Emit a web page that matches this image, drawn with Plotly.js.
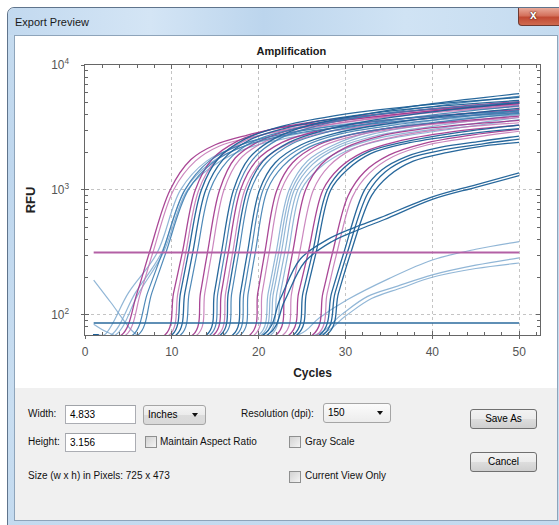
<!DOCTYPE html>
<html><head><meta charset="utf-8">
<script src="https://cdn.plot.ly/plotly-3.0.1.min.js"></script>
<style>
html,body{margin:0;padding:0;width:559px;height:525px;overflow:hidden;background:#fff;font-family:'Liberation Sans',Arial,sans-serif;color:#000;}
#win{position:absolute;left:7px;top:7px;width:570px;height:530px;border:1px solid #5f748c;border-radius:7px 7px 0 0;box-sizing:border-box;
 background:linear-gradient(180deg,#dbe9f6 0px,#c5dbef 30px,#bfd7ee 160px,#c9def1 400px,#c3daef 100%);}
#titlebar{position:absolute;left:0;top:0;right:0;height:27px;border-radius:7px 7px 0 0;
 background:linear-gradient(90deg,#c2d9ef 0%,#d4e5f5 25%,#bcd5ed 45%,#d0e3f4 70%,#c3daef 100%);}
#ttext{position:absolute;left:7px;top:8px;font-size:11px;line-height:13px;color:#1a1a1a;}
#close{position:absolute;left:518px;top:8px;width:45px;height:18px;border:1px solid #6d3a31;border-top:none;border-radius:0 0 4px 4px;box-sizing:border-box;
 background:linear-gradient(180deg,#e9a999 0%,#d4715c 45%,#c14a33 55%,#cf6a4f 100%);}
#close span{position:absolute;left:11px;top:0px;font:bold 12px 'Liberation Sans',Arial;color:#fff;text-shadow:0 0 2px #4a1a10,0 0 1px #4a1a10;}
#content{position:absolute;left:14px;top:35px;width:544px;height:486px;border:1px solid #8ea4ba;box-sizing:border-box;background:#f0f0f0;}
#chartbg{position:absolute;left:15px;top:36px;width:542px;height:352px;background:#fff;}
#chart{position:absolute;left:15px;top:35px;width:542px;height:353px;}
.lbl{position:absolute;font-size:10px;line-height:12px;white-space:nowrap;color:#111;}
.tb{position:absolute;height:19px;box-sizing:border-box;border:1px solid #abadb3;border-top-color:#a0a3a8;background:#fff;font-size:10px;line-height:17px;padding-left:4px;}
.dd{position:absolute;height:20px;box-sizing:border-box;border:1px solid #a5a5a5;border-radius:3px;background:linear-gradient(180deg,#f4f4f4 0%,#ebebeb 50%,#dcdcdc 51%,#d9d9d9 100%);font-size:10px;line-height:18px;padding-left:4px;}
.dd i{position:absolute;right:7px;top:7px;width:0;height:0;border-left:3.5px solid transparent;border-right:3.5px solid transparent;border-top:4px solid #111;}
.btn{position:absolute;height:20px;box-sizing:border-box;border:1px solid #707070;border-radius:3px;background:linear-gradient(180deg,#f2f2f2 0%,#ebebeb 50%,#dddddd 51%,#cfcfcf 100%);font-size:10px;line-height:18px;text-align:center;}
.cb{position:absolute;width:12px;height:12px;box-sizing:border-box;border:1px solid #8e8f8f;background:linear-gradient(135deg,#d2d2d2 0%,#e6e6e6 60%,#f4f4f4 100%);}
</style></head>
<body>
<div id="win"><div id="titlebar"></div><div id="ttext">Export Preview</div></div>
<div id="close"><span>x</span></div>
<div id="content"></div>
<div id="chartbg"></div>
<div id="chart"></div>

<div class="lbl" style="left:28px;top:408px;">Width:</div>
<div class="tb" style="left:65px;top:405px;width:71px;">4.833</div>
<div class="dd" style="left:143px;top:405px;width:63px;">Inches<i></i></div>
<div class="lbl" style="left:241px;top:408px;">Resolution (dpi):</div>
<div class="dd" style="left:323px;top:403px;width:68px;background:linear-gradient(180deg,#fbfbfb,#ececec);">150<i></i></div>
<div class="btn" style="left:470px;top:409px;width:67px;">Save As</div>

<div class="lbl" style="left:28px;top:436px;">Height:</div>
<div class="tb" style="left:65px;top:433px;width:71px;">3.156</div>
<div class="cb" style="left:145px;top:436px;"></div>
<div class="lbl" style="left:160px;top:436px;">Maintain Aspect Ratio</div>
<div class="cb" style="left:289px;top:436px;"></div>
<div class="lbl" style="left:305px;top:436px;">Gray Scale</div>
<div class="btn" style="left:470px;top:452px;width:67px;">Cancel</div>

<div class="lbl" style="left:28px;top:470px;">Size (w x h) in Pixels: 725 x 473</div>
<div class="cb" style="left:289px;top:471px;"></div>
<div class="lbl" style="left:305px;top:470px;">Current View Only</div>

<script>
// ---- data: amplification curves, each a list of [cycle, RFU] readings ----
const magentaDark = [
  [[1,69],[4.2,69],[6.0,150],[7.4,313],[9.8,1000],[12.2,1750],[15.0,2300],[18.7,2750],[22.5,3150],[27.0,3450],[35,4100],[42,4600],[50,5100]],
  [[1,69],[9.2,69],[10.2,150],[11.2,313],[12.7,1000],[14.6,1750],[17.5,2450],[21.5,3050],[28,3650],[38,4300],[50,4900]],
  [[1,69],[12.4,69],[13.3,150],[14.1,313],[15.5,1000],[17.3,1800],[20.3,2500],[24.3,3100],[30.5,3650],[40,4300],[50,4900]],
  [[1,69],[14.8,69],[15.7,150],[16.5,313],[17.9,1000],[19.7,1700],[22.7,2400],[26.7,2950],[33,3500],[41,3950],[50,4400]],
  [[1,69],[19.0,69],[19.9,150],[20.7,313],[22.1,1000],[23.9,1650],[26.9,2300],[30.9,2800],[37,3250],[50,3900]],
  [[1,69],[22.0,69],[23.0,150],[23.9,313],[25.4,1000],[27.2,1600],[30.1,2200],[34,2700],[40,3150],[50,3600]],
  [[1,69],[23.5,69],[24.6,150],[25.7,313],[27.4,1000],[29.3,1500],[32,2000],[36,2450],[42,2900],[50,3300]],
  [[1,69],[26.2,69],[27.4,150],[28.5,313],[30.3,900],[32.2,1400],[35,1900],[39,2350],[44.5,2750],[50,3050]]
];
const magentaLight = [
  [[1,69],[4.7,69],[6.4,150],[7.8,313],[10.2,1000],[12.7,1700],[15.5,2250],[19.2,2650],[23.0,3000],[27.5,3300],[35,3900],[42,4350],[50,4800]],
  [[1,69],[9.7,69],[10.7,150],[11.6,313],[13.1,1000],[15.0,1700],[18.0,2400],[22.0,2950],[28.5,3500],[38,4150],[50,4700]],
  [[1,69],[12.9,69],[13.8,150],[14.6,313],[16.0,1000],[17.8,1750],[20.8,2450],[24.8,3000],[31,3550],[40,4150],[50,4650]],
  [[1,69],[15.3,69],[16.2,150],[17.0,313],[18.4,1000],[20.2,1650],[23.2,2300],[27.2,2850],[33.5,3350],[41,3800],[50,4200]],
  [[1,69],[19.5,69],[20.4,150],[21.2,313],[22.6,1000],[24.4,1600],[27.4,2250],[31.4,2750],[37.5,3200],[50,3800]],
  [[1,69],[22.8,69],[23.8,150],[24.7,313],[26.3,1000],[28.1,1550],[31,2150],[35,2600],[41,3050],[50,3450]],
  [[1,69],[26.7,69],[27.9,150],[29.0,313],[30.8,880],[32.7,1350],[35.5,1850],[39.5,2300],[45,2650],[50,2950]]
];
const blueLight = [
  [[1,69],[2.2,69],[5.0,150],[8.3,313],[11.0,1000],[14.0,1700],[18,2300],[24,2900],[32,3500],[40,3900],[50,4300]],
  [[1,69],[3.0,69],[5.8,150],[8.8,313],[11.5,1000],[14.5,1650],[18.5,2250],[25,2850],[33,3400],[41,3800],[50,4100]],
  [[1,69],[3.5,69],[6.2,150],[9.0,313],[11.8,1000],[15.0,1600],[19,2200],[26,2800],[34,3300],[42,3700],[50,4000]],
  [[1,69],[20.0,69],[21.1,150],[22.0,313],[23.5,1000],[25.6,1700],[28.7,2300],[32.8,2900],[39,3500],[50,4400]],
  [[1,69],[20.3,69],[21.4,150],[22.3,313],[23.8,1000],[25.9,1650],[29,2250],[33.1,2800],[39.3,3350],[50,4200]],
  [[1,69],[20.6,69],[21.7,150],[22.6,313],[24.1,1000],[26.2,1600],[29.3,2200],[33.4,2700],[39.6,3200],[50,4000]],
  [[1,69],[21.0,69],[22.1,150],[23.0,313],[24.5,1000],[26.6,1550],[29.7,2100],[33.8,2600],[40,3050],[50,3800]],
  [[1,69],[21.4,69],[22.5,150],[23.4,313],[24.9,1000],[27,1500],[30.1,2050],[34.2,2500],[40.4,2950],[50,3650]],
  [[1,69],[24.5,69],[27,95],[30.2,132],[35,195],[40,275],[45,335],[50,386]],
  [[1,69],[26.5,69],[29.5,100],[32.5,140],[36,170],[40,209],[45,250],[50,286]],
  [[1,69],[27.0,69],[30,98],[33,135],[36.5,165],[40,200],[45,235],[50,260]],
  [[1,190],[3,125],[5.3,76],[6,69]],
  [[1,84],[2,76],[3.3,69]]
];
const blueMid = [
  [[1,69],[5.5,69],[7.2,150],[8.9,313],[11.5,1000],[14.3,1700],[18.3,2350],[24,2900],[32,3450],[40,3900],[50,4300]],
  [[1,69],[6.1,69],[7.7,150],[9.3,313],[11.9,1000],[14.7,1650],[18.7,2300],[24.5,2850],[32.5,3350],[41,3800],[50,4150]],
  [[1,69],[11.0,69],[12.0,150],[12.9,313],[14.4,1000],[16.4,1700],[19.4,2450],[23.4,3000],[29.5,3650],[38.5,4350],[50,5000]],
  [[1,69],[14.4,69],[15.3,150],[16.1,313],[17.5,1000],[19.3,1750],[22.3,2550],[26.3,3200],[32.5,3900],[40.5,4700],[50,5600]],
  [[1,69],[16.0,69],[16.9,150],[17.7,313],[19.1,1000],[20.9,1650],[23.9,2350],[27.9,2900],[34,3500],[41.5,4100],[50,4700]],
  [[1,69],[17.4,69],[18.3,150],[19.1,313],[20.5,1000],[22.3,1600],[25.3,2250],[29.3,2800],[35.5,3300],[42.5,3800],[50,4300]],
  [[1,69],[17.9,69],[18.8,150],[19.6,313],[21.0,1000],[22.8,1550],[25.8,2200],[29.8,2700],[36,3200],[43,3650],[50,4100]]
];
const blueDark = [
  [[1,69],[10.0,69],[11.0,150],[11.9,313],[13.4,1000],[15.4,1800],[18.4,2550],[22.4,3200],[28.5,3900],[38,4700],[50,5500]],
  [[1,69],[10.5,69],[11.5,150],[12.4,313],[13.9,1000],[15.9,1750],[18.9,2500],[22.9,3100],[29,3750],[38,4500],[50,5200]],
  [[1,69],[14.0,69],[14.9,150],[15.7,313],[17.1,1000],[18.9,1800],[21.9,2600],[25.9,3300],[32,4000],[40,4900],[50,5900]],
  [[1,69],[15.6,69],[16.5,150],[17.3,313],[18.7,1000],[20.5,1700],[23.5,2400],[27.5,3000],[33.5,3650],[41,4300],[50,5000]],
  [[1,69],[17.0,69],[17.9,150],[18.7,313],[20.1,1000],[21.9,1650],[24.9,2300],[28.9,2850],[35,3400],[42,3950],[50,4500]],
  [[1,69],[24.0,69],[25.1,150],[26.2,313],[27.9,1000],[29.8,1500],[32.5,2000],[36.5,2400],[42.5,2850],[50,3300]],
  [[1,69],[24.4,69],[25.5,150],[26.6,313],[28.3,1000],[30.2,1450],[32.9,1950],[36.9,2350],[43,2750],[50,3100]],
  [[1,69],[27.0,69],[28.4,150],[29.8,313],[32.2,1000],[34.2,1450],[37,1850],[41,2200],[45.5,2450],[50,2700]],
  [[1,69],[27.4,69],[28.8,150],[30.2,313],[32.6,950],[34.6,1400],[37.4,1800],[41.4,2100],[46,2350],[50,2550]],
  [[1,69],[27.8,69],[29.2,150],[30.6,313],[33.0,900],[35,1300],[37.8,1700],[41.8,2000],[46,2250],[50,2400]],
  [[1,69],[20.5,69],[22.5,135],[24.8,280],[27.9,400],[31,500],[34,600],[40,880],[45,1100],[50,1370]],
  [[1,69],[21.0,69],[23,130],[25.3,265],[28.4,385],[31.5,480],[34.5,580],[40,840],[45,1050],[50,1300]]
];
const thresholdCycles = [1, 50];
const thresholdRFU = [315, 315];
const baselineCycles = [1, 50];
const baselineRFU = [86, 86];
const xTickVals = [0, 10, 20, 30, 40, 50];
const yRange = [69, 10000];

// ---- drawing ----
const traces = [];
function addGroup(curves, color, width, opacity) {
  curves.forEach(c => traces.push({
    x: c.map(p => p[0]), y: c.map(p => p[1]), type: 'scatter', mode: 'lines',
    line: {color: color, width: width, shape: 'spline', smoothing: 1},
    opacity: opacity, hoverinfo: 'skip', xaxis: 'x', yaxis: 'y'
  }));
}
addGroup(blueLight, '#7ea9cf', 1.2, 0.85);
addGroup(magentaLight, '#c272b3', 1.2, 0.85);
addGroup(magentaDark, '#a0328a', 1.3, 0.9);
addGroup(blueMid, '#3c7cb0', 1.2, 0.9);
addGroup(blueDark, '#1c6097', 1.3, 0.95);
traces.push({x: thresholdCycles, y: thresholdRFU, type: 'scatter', mode: 'lines',
  line: {color: '#b360a5', width: 2}, hoverinfo: 'skip'});
traces.push({x: baselineCycles, y: baselineRFU, type: 'scatter', mode: 'lines',
  line: {color: '#2a6a9c', width: 1.6}, hoverinfo: 'skip'});
// overlay axes carry the inside ticks
traces.push({x: [25], y: [300], xaxis: 'x2', yaxis: 'y2', type: 'scatter', mode: 'markers',
  marker: {opacity: 0, size: 1}, hoverinfo: 'skip'});

const font = 'Liberation Sans, Arial, sans-serif';
const xr = [0, 52.4];
const yr = [Math.log10(yRange[0]), Math.log10(yRange[1])];
const layout = {
  width: 542, height: 353,
  margin: {l: 70, r: 17, t: 30, b: 53},
  paper_bgcolor: 'rgba(0,0,0,0)', plot_bgcolor: '#fff',
  showlegend: false,
  font: {family: font, color: '#444'},
  title: {text: '<b>Amplification</b>', font: {family: font, size: 11, color: '#1a1a1a'},
    x: 0.51, xanchor: 'center', y: 1 - 16/353, yref: 'container', yanchor: 'middle'},
  xaxis: {range: xr, tickmode: 'array', tickvals: xTickVals, ticks: 'outside', ticklen: 3,
    tickcolor: '#666', showline: true, linecolor: '#666', linewidth: 1, mirror: true,
    showgrid: true, gridcolor: '#c4c4c4', griddash: 'dot', gridwidth: 1, zeroline: false,
    tickfont: {family: font, size: 12, color: '#555'}, layer: 'below traces', ticklabelstandoff: 3,
    title: {text: '<b>Cycles</b>', font: {family: font, size: 12, color: '#222'}, standoff: 10}},
  yaxis: {type: 'log', range: yr, dtick: 1, exponentformat: 'power', ticks: 'outside', ticklen: 3,
    tickcolor: '#666', showline: true, linecolor: '#666', linewidth: 1, mirror: true,
    showgrid: true, gridcolor: '#c4c4c4', griddash: 'dot', gridwidth: 1, zeroline: false,
    tickfont: {family: font, size: 9.5, color: '#555'}, layer: 'below traces', ticklabelstandoff: 10,
    title: {text: '<b>RFU</b>', font: {family: font, size: 13, color: '#222'}, standoff: 12}},
  xaxis2: {overlaying: 'x', anchor: 'y', range: xr, tickmode: 'linear', tick0: 0, dtick: 10,
    ticks: 'inside', ticklen: 4, tickcolor: '#666', mirror: 'allticks', showticklabels: false,
    showgrid: false, zeroline: false, showline: false,
    minor: {tick0: 0, dtick: 2, ticks: 'inside', ticklen: 3, tickcolor: '#666', showgrid: false}},
  yaxis2: {overlaying: 'y', anchor: 'x', type: 'log', range: yr, dtick: 1,
    ticks: 'inside', ticklen: 4, tickcolor: '#666', mirror: 'allticks', showticklabels: false,
    showgrid: false, zeroline: false, showline: false,
    minor: {dtick: 'D1', ticks: 'inside', ticklen: 3, tickcolor: '#666', showgrid: false}}
};
Plotly.newPlot('chart', traces, layout, {staticPlot: true, displayModeBar: false});
</script>
</body></html>
